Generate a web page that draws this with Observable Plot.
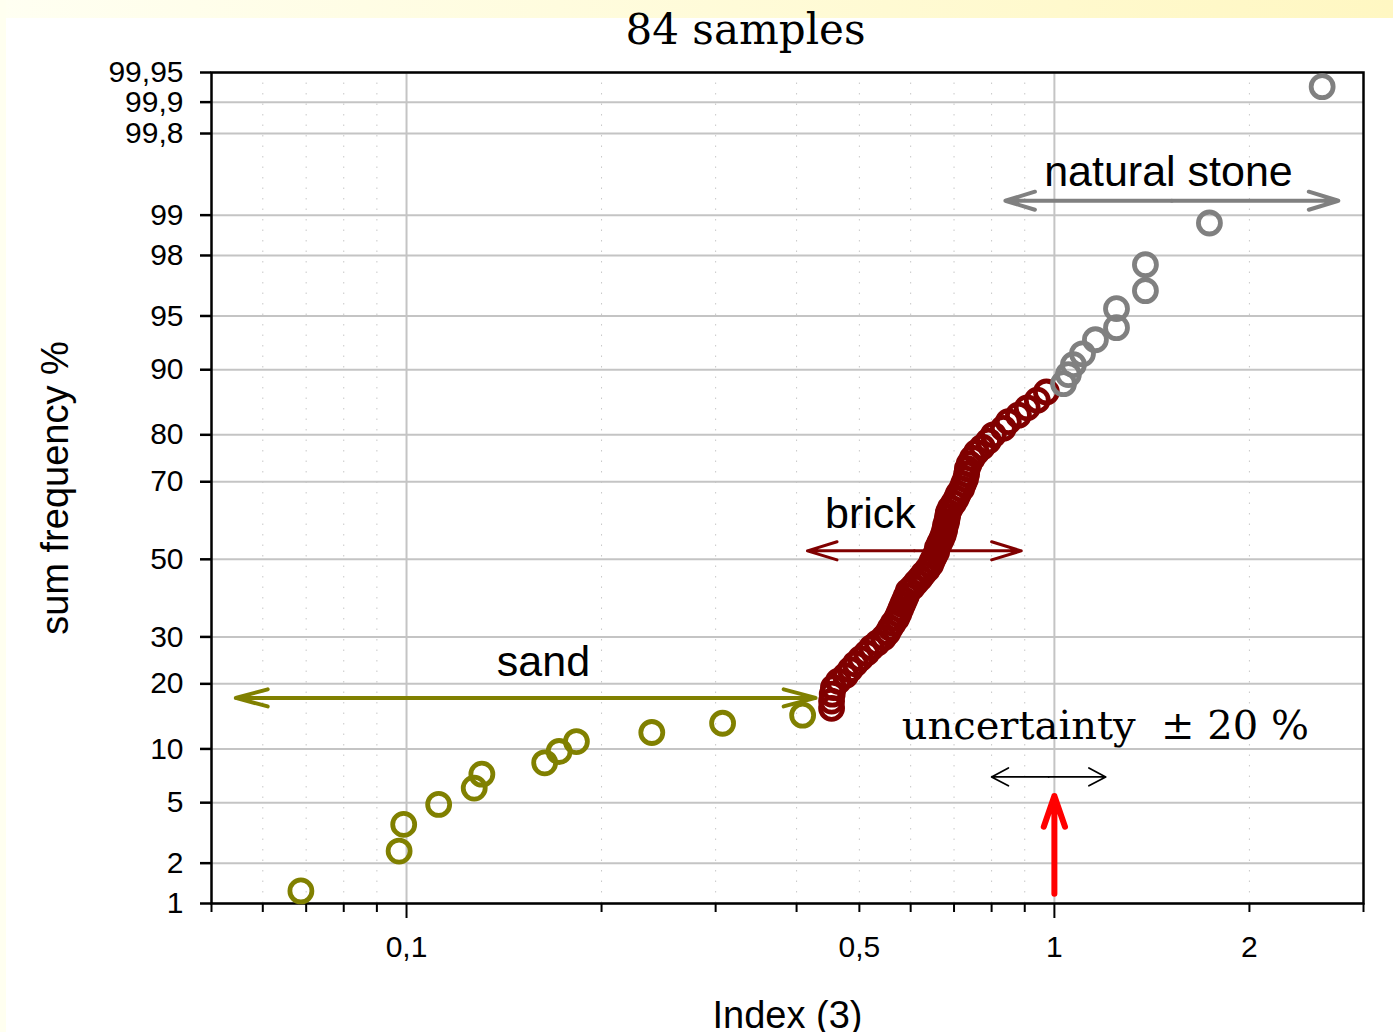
<!DOCTYPE html>
<html>
<head>
<meta charset="utf-8">
<script src="https://cdn.jsdelivr.net/npm/d3@7"></script>
<script src="https://cdn.jsdelivr.net/npm/@observablehq/plot@0.6"></script>
<style>
  html, body { margin: 0; padding: 0; background: #ffffff; }
  #topband { position: absolute; left: 0; top: 0; width: 1393px; height: 18px;
    background: linear-gradient(to right, #fffff2 0%, #fffcde 40%, #fff7c2 100%); }
  #leftband { position: absolute; left: 0; top: 0; width: 6px; height: 1032px; background: #fffff0; }
  #chart { position: absolute; left: 0; top: 0; }
</style>
</head>
<body>
<div id="topband"></div>
<div id="leftband"></div>
<div id="chart"></div>
<script>
// ---------------- data ----------------
const title = "84 samples";
const xTitle = "Index (3)";
const yTitle = "sum frequency %";

// sand (olive)
const sandIndex = [0.0687, 0.0974, 0.0990, 0.1121, 0.1272, 0.1307, 0.1634, 0.1720, 0.1829, 0.2391, 0.3075, 0.4087];
const sandFreq  = [1.25, 2.43, 3.66, 4.88, 6.10, 7.32, 8.45, 9.70, 10.90, 12.09, 13.39, 14.60];

// brick (dark red)
const brickIndex = [0.453, 0.453, 0.454, 0.456, 0.464, 0.476, 0.484, 0.493, 0.502, 0.513,
                    0.522, 0.533, 0.545, 0.553, 0.558, 0.564, 0.571, 0.575, 0.579, 0.583,
                    0.587, 0.591, 0.595, 0.604, 0.612, 0.621, 0.628, 0.637, 0.644, 0.648,
                    0.653, 0.658, 0.660, 0.665, 0.670, 0.674, 0.677, 0.679, 0.682, 0.684,
                    0.686, 0.691, 0.699, 0.706, 0.711, 0.719, 0.724, 0.729, 0.732, 0.734,
                    0.739, 0.747, 0.758, 0.774, 0.791, 0.805, 0.834, 0.849, 0.880, 0.908,
                    0.941, 0.972];
const brickFreq  = [15.7, 16.9, 18.1, 19.3, 20.5, 21.6, 22.8, 24.0, 25.1, 26.3,
                    27.5, 28.6, 29.8, 31.0, 32.1, 33.3, 34.5, 35.6, 36.8, 38.0,
                    39.1, 40.3, 41.5, 42.6, 43.8, 45.0, 46.1, 47.3, 48.5, 49.6,
                    50.8, 52.0, 53.1, 54.3, 55.5, 56.6, 57.8, 59.0, 60.1, 61.3,
                    62.5, 63.6, 64.8, 66.0, 67.1, 68.3, 69.5, 70.6, 71.8, 73.0,
                    74.1, 75.3, 76.5, 77.6, 78.8, 80.0, 81.2, 82.4, 83.5, 84.7,
                    85.9, 87.1];

// natural stone (grey)
const stoneIndex = [1.033, 1.051, 1.070, 1.105, 1.157, 1.247, 1.247, 1.382, 1.382, 1.735, 2.59];
const stoneFreq  = [88.24, 89.41, 90.59, 91.76, 93.11, 94.13, 95.49, 96.53, 97.68, 98.85, 99.93];

// axes
const yTickValues = [1, 2, 5, 10, 20, 30, 50, 70, 80, 90, 95, 98, 99, 99.8, 99.9, 99.95];
const yTickLabels = ["1", "2", "5", "10", "20", "30", "50", "70", "80", "90", "95", "98", "99", "99,8", "99,9", "99,95"];
const xMinorTicks = [0.05, 0.06, 0.07, 0.08, 0.09, 0.2, 0.3, 0.4, 0.5, 0.6, 0.7, 0.8, 0.9, 2, 3];
const xMajorTicks = [0.1, 1];
const xMinorGrid  = [0.06, 0.07, 0.08, 0.09, 0.2, 0.3, 0.4, 0.5, 0.6, 0.7, 0.8, 0.9, 2];
const xLabelValues = [0.1, 0.5, 1, 2];
const xLabelTexts  = ["0,1", "0,5", "1", "2"];

// annotations (data coordinates: index, sum frequency %)
const rangeArrows = [
  {name: "sand",          from: 0.0545, to: 0.428, freq: 17.45, color: "#808000"},
  {name: "brick",         from: 0.4157, to: 0.889, freq: 52.29, color: "#800000"},
  {name: "natural stone", from: 0.840,  to: 2.744, freq: 99.232, color: "#808080"},
  {name: "uncertainty",   from: 0.8,    to: 1.2,   freq: 7.07,  color: "#000000"}
];
const labels = [
  {text: "sand",          x: 0.1627, freq: 24.3},
  {text: "brick",         x: 0.520,  freq: 62.1},
  {text: "natural stone", x: 1.500,  freq: 99.56}
];
const uncertaintyLabel = {text: "uncertainty  \u00b1 20 %", x: 1.1985, freq: 12.9};
const markerArrow = {x: 1, fromFreq: 1.19, toFreq: 5.49};

// ---------------- helpers ----------------
function probit(p) {
  const a = [-3.969683028665376e+01, 2.209460984245205e+02, -2.759285104469687e+02, 1.383577518672690e+02, -3.066479806614716e+01, 2.506628277459239e+00];
  const b = [-5.447609879822406e+01, 1.615858368580409e+02, -1.556989798598866e+02, 6.680131188771972e+01, -1.328068155288572e+01];
  const c = [-7.784894002430293e-03, -3.223964580411365e-01, -2.400758277161838e+00, -2.549671010229583e+00, 4.374664141464968e+00, 2.938163982698783e+00];
  const d = [7.784695709041462e-03, 3.224671290700398e-01, 2.445134137142996e+00, 3.754408661907416e+00];
  const pl = 0.02425, ph = 1 - pl;
  let q, r;
  if (p < pl) {
    q = Math.sqrt(-2 * Math.log(p));
    return (((((c[0]*q+c[1])*q+c[2])*q+c[3])*q+c[4])*q+c[5]) / ((((d[0]*q+d[1])*q+d[2])*q+d[3])*q+1);
  }
  if (p <= ph) {
    q = p - 0.5; r = q * q;
    return (((((a[0]*r+a[1])*r+a[2])*r+a[3])*r+a[4])*r+a[5])*q / (((((b[0]*r+b[1])*r+b[2])*r+b[3])*r+b[4])*r+1);
  }
  q = Math.sqrt(-2 * Math.log(1 - p));
  return -(((((c[0]*q+c[1])*q+c[2])*q+c[3])*q+c[4])*q+c[5]) / ((((d[0]*q+d[1])*q+d[2])*q+d[3])*q+1);
}
const Z = (pct) => probit(pct / 100);

const sand  = sandIndex.map((x, i) => ({x, p: sandFreq[i]}));
const brick = brickIndex.map((x, i) => ({x, p: brickFreq[i]}));
const stone = stoneIndex.map((x, i) => ({x, p: stoneFreq[i]}));
const yTickZ = yTickValues.map(Z);

// split double-headed arrows into two halves from the (log) midpoint
const halves = rangeArrows.flatMap(a => {
  const mid = Math.sqrt(a.from * a.to);
  return [{...a, x1: mid, x2: a.from}, {...a, x1: mid, x2: a.to}];
});
const arrowStyle = {
  "sand":          {sw: 4,   hl: 12.4, ha: 30},
  "brick":         {sw: 3,   hl: 15.5, ha: 34},
  "natural stone": {sw: 4,   hl: 11.6, ha: 34},
  "uncertainty":   {sw: 1.7, hl: 18.5, ha: 56}
};
const arrowMarks = Object.keys(arrowStyle).map(name => {
  const s = arrowStyle[name];
  return Plot.arrow(halves.filter(h => h.name === name), {
    x1: "x1", x2: "x2", y1: d => Z(d.freq), y2: d => Z(d.freq),
    stroke: d => d.color, strokeWidth: s.sw, headLength: s.hl, headAngle: s.ha
  });
});

const SANS = "'Liberation Sans', Arial, Helvetica, sans-serif";
const SERIF = "'DejaVu Serif', Georgia, serif";
const DOT = {r: 11, strokeWidth: 4.8, fill: "none"};

const chart = Plot.plot({
  width: 1393,
  height: 1032,
  marginTop: 72,
  marginBottom: 129,
  marginLeft: 211,
  marginRight: 30,
  x: {type: "log", domain: [0.05, 3], label: null},
  y: {type: "linear", domain: [Z(1), Z(99.95)], label: null},
  style: {background: "transparent", fontFamily: SANS, color: "black", overflow: "visible"},
  marks: [
    // grid
    Plot.ruleX(xMinorGrid, {stroke: "#c8c8c8", strokeWidth: 1, strokeDasharray: "1.5,9"}),
    Plot.ruleY(yTickZ, {stroke: "#c4c4c4", strokeWidth: 2}),
    Plot.ruleX(xMajorTicks, {stroke: "#c4c4c4", strokeWidth: 2}),
    // axes
    Plot.axisY(yTickZ, {tickSize: 11, tickPadding: 17, strokeWidth: 2.5,
      tickFormat: z => yTickLabels[yTickZ.indexOf(z)], fontSize: 30, label: null}),
    Plot.axisX(xMinorTicks, {tickSize: 9, strokeWidth: 2, fill: "none", label: null}),
    Plot.axisX(xMajorTicks, {tickSize: 15, strokeWidth: 2, fill: "none", label: null}),
    Plot.axisX(xLabelValues, {tickSize: 0, tickPadding: 32,
      tickFormat: v => xLabelTexts[xLabelValues.indexOf(v)], fontSize: 30, label: null}),
    Plot.frame({stroke: "black", strokeWidth: 2.5}),
    // annotation arrows
    ...arrowMarks,
    Plot.arrow([markerArrow], {x1: "x", x2: "x", y1: d => Z(d.fromFreq), y2: d => Z(d.toFreq),
      stroke: "#ff0000", strokeWidth: 6, headLength: 9.3, headAngle: 38}),
    // data
    Plot.dot(sand,  {x: "x", y: d => Z(d.p), stroke: "#808000", ...DOT}),
    Plot.dot(brick, {x: "x", y: d => Z(d.p), stroke: "#800000", ...DOT}),
    Plot.dot(stone, {x: "x", y: d => Z(d.p), stroke: "#808080", ...DOT}),
    // labels
    Plot.text(labels, {x: "x", y: d => Z(d.freq), text: "text", fontSize: 43, fill: "black", fontFamily: SANS}),
    Plot.text([uncertaintyLabel], {x: "x", y: d => Z(d.freq), text: "text", fontSize: 40, fill: "black", fontFamily: SERIF}),
    // titles
    Plot.text([title], {frameAnchor: "top", lineAnchor: "middle", textAnchor: "middle", dx: -42, dy: -42,
      text: d => d, fontSize: 42, fontFamily: SERIF, fill: "black"}),
    Plot.text([xTitle], {frameAnchor: "bottom", lineAnchor: "middle", textAnchor: "middle", dy: 112,
      text: d => d, fontSize: 38, fontFamily: SANS, fill: "black"}),
    Plot.text([yTitle], {frameAnchor: "left", lineAnchor: "middle", textAnchor: "middle", dx: -156, rotate: -90,
      text: d => d, fontSize: 38, fontFamily: SANS, fill: "black"})
  ]
});
document.getElementById("chart").appendChild(chart);
</script>
</body>
</html>
